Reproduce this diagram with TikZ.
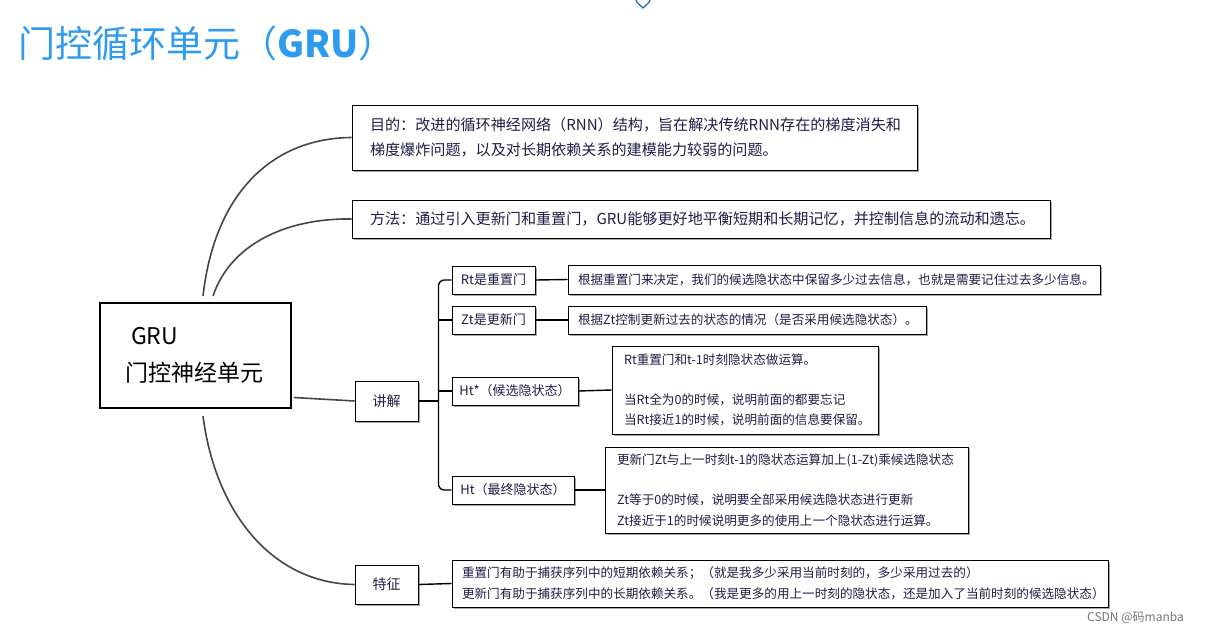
\documentclass[tikz,border=0pt]{standalone}
\usepackage{fontspec}
\setmainfont{Noto Sans CJK SC}
\usetikzlibrary{shadows}
\definecolor{titleblue}{HTML}{2F9BEF}
\definecolor{navy}{HTML}{1E1E46}
\definecolor{curvegray}{HTML}{454545}
\definecolor{iconblue}{HTML}{1F6FAE}
\begin{document}
\begin{tikzpicture}[x=1pt,y=-1pt,
  shadowed/.style={drop shadow={shadow xshift=1.6pt,shadow yshift=-1.6pt,fill=black!35,opacity=1}},
  box/.style={draw=black,line width=0.9pt,fill=white,shadowed,inner ysep=0pt,text=navy,align=left},
  leaf/.style={box,font=\fontsize{12.6}{20.5}\selectfont},
  tag/.style={box,font=\fontsize{13}{16}\selectfont,align=center,inner xsep=0pt},
  bigbox/.style={box,font=\fontsize{15.1}{25}\selectfont},
  conn/.style={draw=curvegray,line width=1.6pt},
  bline/.style={draw=black,line width=1.4pt}]
\useasboundingbox (0,0) rectangle (1207,635);

% title and decorations
\node[anchor=base west,inner sep=0pt,text=titleblue,font=\fontsize{37}{40}\selectfont] (title) at (18,57) {门控循环单元（\textbf{GRU}）};
\draw[iconblue,line width=1.3pt] (636,0) .. controls (637,4) and (641,5) .. (643,8) .. controls (645,5) and (649,4) .. (650,0);
\node[anchor=west,inner sep=0pt,text=black!55,font=\fontsize{12}{12}\selectfont] (wm) at (1087,618) {CSDN @码manba};

% central node
\node[draw=black,line width=1.9pt,fill=white,text=black,align=left,
      font=\fontsize{23}{37}\selectfont,text width=141pt,inner xsep=25pt,inner ysep=0pt,
      minimum height=105pt] (gru) at (195.5,355.5) {\hspace*{6pt}GRU\\门控神经单元};

% first level
\node[bigbox,text width=529pt,inner xsep=18pt,minimum height=65pt] (aim) at (634.5,137.5)
  {目的：改进的循环神经网络（RNN）结构，旨在解决传统RNN存在的梯度消失和\\梯度爆炸问题，以及对长期依赖关系的建模能力较弱的问题。};
\node[bigbox,text width=662pt,inner xsep=18pt,minimum height=38pt] (method) at (701,219)
  {方法：通过引入更新门和重置门，GRU能够更好地平衡短期和长期记忆，并控制信息的流动和遗忘。};
\node[tag,minimum width=63pt,minimum height=40pt,font=\fontsize{14}{16}\selectfont] (jj) at (386.5,401) {讲解};
\node[tag,minimum width=63pt,minimum height=39pt,font=\fontsize{14}{16}\selectfont] (tz) at (386.5,584.5) {特征};

% second level
\node[tag,minimum width=83pt,minimum height=28pt] (rt) at (493.5,280) {Rt是重置门};
\node[tag,minimum width=83pt,minimum height=28pt] (zt) at (493.5,320) {Zt是更新门};
\node[tag,minimum width=126pt,minimum height=28pt] (hts) at (515,391) {Ht*（候选隐状态）};
\node[tag,minimum width=122pt,minimum height=28pt] (ht) at (513,490) {Ht（最终隐状态）};

% leaves
\node[leaf,text width=512pt,inner xsep=10pt,minimum height=29pt] (rtl) at (834,279.5)
  {根据重置门来决定，我们的候选隐状态中保留多少过去信息，也就是需要记住过去多少信息。};
\node[leaf,text width=338pt,inner xsep=10pt,minimum height=28pt] (ztl) at (747,320)
  {根据Zt控制更新过去的状态的情况（是否采用候选隐状态）。};
\node[leaf,text width=242pt,inner xsep=12pt,minimum height=88pt] (htsl) at (745,390)
  {Rt重置门和t-1时刻隐状态做运算。\\[19.5pt]当Rt全为0的时候，说明前面的都要忘记\\当Rt接近1的时候，说明前面的信息要保留。};
\node[leaf,text width=339pt,inner xsep=12pt,minimum height=86pt] (htl) at (786.5,490)
  {更新门Zt与上一时刻t-1的隐状态运算加上(1-Zt)乘候选隐状态\\[19.5pt]Zt等于0的时候，说明要全部采用候选隐状态进行更新\\Zt接近于1的时候说明更多的使用上一个隐状态进行运算。};
\node[leaf,text width=636pt,inner xsep=10pt,minimum height=47pt] (tzl) at (780,583.5)
  {重置门有助于捕获序列中的短期依赖关系；（就是我多少采用当前时刻的，多少采用过去的）\\更新门有助于捕获序列中的长期依赖关系。（我是更多的用上一时刻的隐状态，还是加入了当前时刻的候选隐状态）};

% connectors from centre
\draw[conn] ([xshift=7.5pt,yshift=6pt]gru.north) .. controls (215,190) and (275,138) .. (aim.west);
\draw[conn] ([xshift=17.5pt,yshift=6pt]gru.north) .. controls (230,245) and (285,218) .. (method.west);
\draw[conn] ([xshift=7.5pt,yshift=-7pt]gru.south) .. controls (215,510) and (270,583) .. (tz.west);
\draw[conn] ([xshift=2pt,yshift=-42pt]gru.east) -- (jj.west);

% bracket of 讲解
\draw[bline] (jj.east) -- ++(20,0) coordinate (bx);
\draw[bline,rounded corners=6pt] (rt.west) -| (bx);
\draw[bline] (zt.west) -| (bx);
\draw[bline] (hts.west) -| (bx);
\draw[bline,rounded corners=6pt] (ht.west) -| (bx);

% leaves connectors
\draw[bline] (rt.east) -- (rtl.west);
\draw[bline] (zt.east) -- (ztl.west);
\draw[bline] (hts.east) -- (htsl.west);
\draw[bline] (ht.east) -- (htl.west);
\draw[bline] (tz.east) -- (tzl.west);
\end{tikzpicture}
\end{document}
